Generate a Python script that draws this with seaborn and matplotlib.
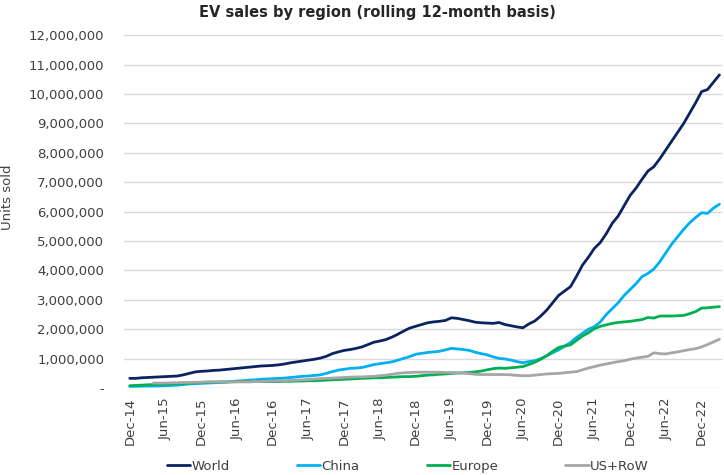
import numpy as np
import pandas as pd
import matplotlib
matplotlib.use("Agg")
import matplotlib.pyplot as plt
from matplotlib.ticker import FuncFormatter, MultipleLocator
import seaborn as sns

months = pd.date_range("2014-12-01", periods=100, freq="MS").strftime("%b-%y").tolist()

world = [0.33, 0.33, 0.35, 0.36, 0.37, 0.38, 0.39, 0.40, 0.41, 0.45,
         0.50, 0.55, 0.57, 0.58, 0.60, 0.61, 0.63, 0.65, 0.67, 0.69,
         0.71, 0.73, 0.75, 0.76, 0.77, 0.79, 0.82, 0.86, 0.89, 0.92,
         0.95, 0.98, 1.02, 1.08, 1.17, 1.23, 1.28, 1.31, 1.35, 1.40,
         1.48, 1.56, 1.60, 1.65, 1.73, 1.83, 1.94, 2.04, 2.10, 2.16,
         2.22, 2.25, 2.27, 2.30, 2.39, 2.37, 2.33, 2.29, 2.24, 2.22,
         2.21, 2.20, 2.23, 2.16, 2.12, 2.08, 2.05, 2.18, 2.28, 2.45,
         2.65, 2.90, 3.15, 3.30, 3.45, 3.80, 4.18, 4.45, 4.75, 4.95,
         5.25, 5.60, 5.85, 6.20, 6.55, 6.80, 7.10, 7.38, 7.53, 7.80,
         8.10, 8.40, 8.70, 9.00, 9.35, 9.70, 10.08, 10.15, 10.40, 10.65]

china = [0.06, 0.06, 0.065, 0.07, 0.07, 0.075, 0.08, 0.09, 0.10, 0.12,
         0.14, 0.15, 0.16, 0.17, 0.18, 0.19, 0.20, 0.22, 0.24, 0.25,
         0.27, 0.28, 0.30, 0.31, 0.32, 0.33, 0.34, 0.36, 0.38, 0.40,
         0.41, 0.43, 0.45, 0.50, 0.56, 0.61, 0.64, 0.67, 0.68, 0.70,
         0.75, 0.80, 0.83, 0.86, 0.89, 0.95, 1.01, 1.07, 1.15, 1.18,
         1.21, 1.23, 1.25, 1.30, 1.35, 1.33, 1.31, 1.28, 1.22, 1.17,
         1.13, 1.06, 1.01, 0.99, 0.95, 0.90, 0.86, 0.90, 0.93, 1.00,
         1.10, 1.20, 1.30, 1.42, 1.55, 1.72, 1.86, 2.00, 2.09, 2.25,
         2.50, 2.70, 2.90, 3.15, 3.35, 3.55, 3.79, 3.90, 4.05, 4.30,
         4.60, 4.90, 5.15, 5.40, 5.62, 5.80, 5.96, 5.94, 6.12, 6.25]

europe = [0.08, 0.09, 0.10, 0.11, 0.12, 0.13, 0.13, 0.14, 0.15, 0.16,
          0.17, 0.18, 0.19, 0.20, 0.20, 0.21, 0.21, 0.21, 0.22, 0.22,
          0.22, 0.22, 0.22, 0.22, 0.22, 0.22, 0.23, 0.23, 0.24, 0.24,
          0.25, 0.25, 0.26, 0.27, 0.28, 0.29, 0.30, 0.31, 0.32, 0.33,
          0.34, 0.35, 0.35, 0.36, 0.37, 0.38, 0.39, 0.39, 0.40, 0.42,
          0.44, 0.45, 0.47, 0.48, 0.50, 0.51, 0.52, 0.53, 0.55, 0.58,
          0.62, 0.66, 0.68, 0.67, 0.69, 0.71, 0.73, 0.80, 0.88, 0.98,
          1.10, 1.25, 1.38, 1.43, 1.47, 1.62, 1.77, 1.88, 2.02, 2.10,
          2.15, 2.20, 2.23, 2.25, 2.27, 2.30, 2.33, 2.40, 2.38, 2.45,
          2.45, 2.45, 2.46, 2.47, 2.53, 2.60, 2.72, 2.73, 2.75, 2.77]

us_row = [np.nan, np.nan, np.nan, np.nan, 0.17, 0.17, 0.17, 0.18, 0.18, 0.19,
          0.19, 0.20, 0.20, 0.21, 0.21, 0.21, 0.21, 0.21, 0.21, 0.21,
          0.21, 0.22, 0.22, 0.23, 0.24, 0.24, 0.25, 0.26, 0.27, 0.28,
          0.29, 0.31, 0.32, 0.33, 0.34, 0.35, 0.36, 0.37, 0.38, 0.38,
          0.39, 0.40, 0.42, 0.44, 0.47, 0.50, 0.52, 0.53, 0.54, 0.54,
          0.54, 0.54, 0.54, 0.53, 0.53, 0.52, 0.51, 0.49, 0.47, 0.46,
          0.46, 0.46, 0.46, 0.46, 0.45, 0.43, 0.42, 0.42, 0.44, 0.46,
          0.48, 0.49, 0.50, 0.52, 0.54, 0.56, 0.62, 0.68, 0.73, 0.78,
          0.82, 0.86, 0.90, 0.93, 0.98, 1.02, 1.05, 1.08, 1.20, 1.17,
          1.16, 1.20, 1.23, 1.27, 1.31, 1.34, 1.40, 1.48, 1.57, 1.66]

regions = ["World", "China", "Europe", "US+RoW"]
colors = ["#0b2461", "#00b0f0", "#00b050", "#a6a6a6"]

frames = []
for name, vals in zip(regions, [world, china, europe, us_row]):
    frames.append(pd.DataFrame({"idx": range(len(months)), "month": months,
                                "region": name,
                                "sales": np.array(vals, dtype=float) * 1e6}))
df = pd.concat(frames, ignore_index=True)

sns.set_theme(style="white")
plt.rcParams["font.family"] = ["DejaVu Sans"]

fig = plt.figure(figsize=(7.24, 4.75), dpi=100)
ax = fig.add_axes([0.171, 0.183, 0.826, 0.743])

sns.lineplot(data=df, x="idx", y="sales", hue="region", hue_order=regions,
             palette=dict(zip(regions, colors)), linewidth=2.0, ax=ax,
             legend=True)

ax.set_ylim(0, 12e6)
ax.set_xlim(-1, 99.4)
ax.yaxis.set_major_locator(MultipleLocator(1e6))
ax.yaxis.set_major_formatter(FuncFormatter(lambda v, p: "-" if v == 0 else f"{int(v):,}"))
ax.grid(axis="y", color="#d9d9d9", linewidth=1.0)
ax.grid(axis="x", visible=False)
for s in ax.spines.values():
    s.set_visible(False)

tick_pos = list(range(0, len(months), 6))
ax.set_xticks(tick_pos)
ax.set_xticklabels([months[i] for i in tick_pos], rotation=90)
ax.tick_params(axis="x", labelsize=9.5, colors="#404040", length=0, pad=7)
ax.tick_params(axis="y", labelsize=9.5, colors="#404040", length=0, pad=14)

ax.set_xlabel("")
ax.set_ylabel("Units sold", fontsize=9.5, color="#404040")
ax.yaxis.set_label_coords(-0.183, 0.54)

fig.text(0.521, 0.99, "EV sales by region (rolling 12-month basis)", fontsize=10.5,
         fontweight="bold", color="#262626", ha="center", va="top")

h, l = ax.get_legend_handles_labels()
ax.legend(h, l, loc="center", bbox_to_anchor=(0.475, -0.222), ncol=4,
          frameon=False, fontsize=9.5, handlelength=1.75, handletextpad=0.1,
          columnspacing=5.1, labelcolor="#404040", borderpad=0.0)

fig.savefig("out.png", dpi=100)
